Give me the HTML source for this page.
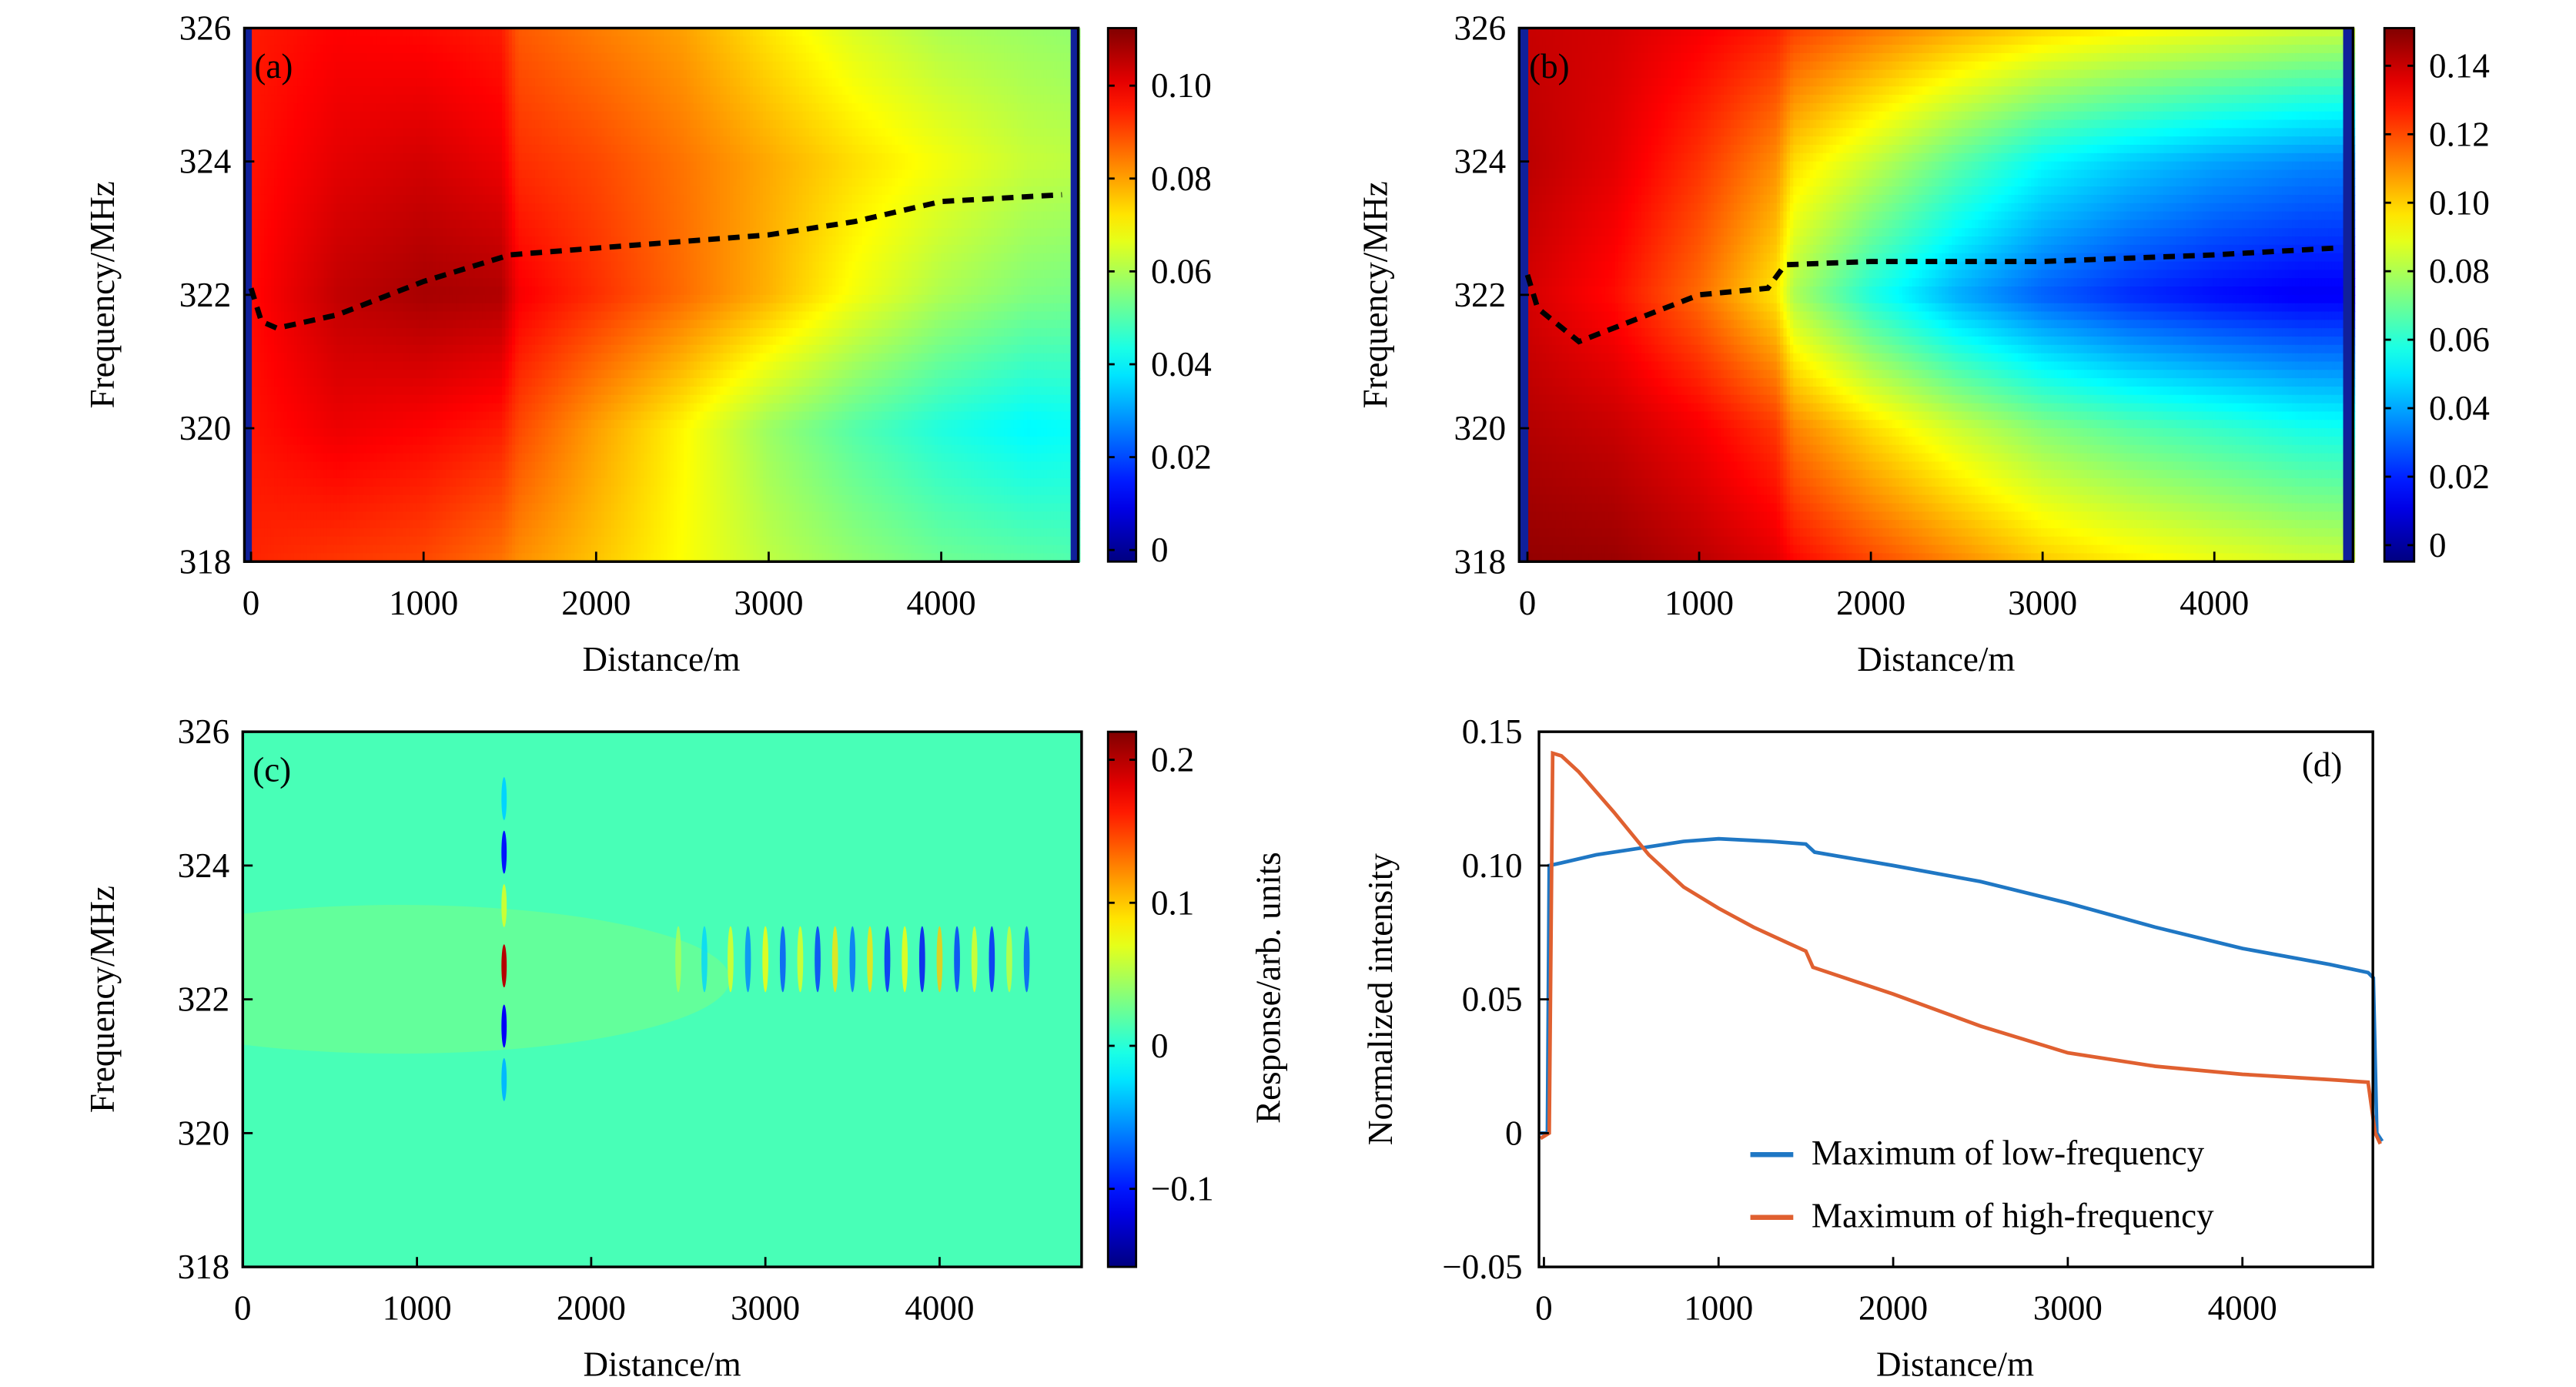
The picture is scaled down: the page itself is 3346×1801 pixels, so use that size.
<!DOCTYPE html>
<html><head><meta charset="utf-8"><style>
html,body{margin:0;padding:0;background:#fff;}
svg{display:block;}
text{font-family:"Liberation Serif",serif;fill:#000;}
</style></head><body>
<svg id="fig" xmlns="http://www.w3.org/2000/svg" width="3346" height="1801" viewBox="0 0 1560 839.7">
<defs><clipPath id="clip-c"><rect x="147" y="443" width="508" height="324"/></clipPath></defs>
<g id="layer-heat"></g>
<g id="layer-marks"></g>
<g id="layer-c" clip-path="url(#clip-c)"></g>
<g id="layer-axes"></g>
</svg>
<script>
// ---------- data ----------
const heatDist = [0, 500, 1000, 1450, 1550, 2000, 2500, 3000, 3500, 4000, 4500, 4750];
const heatFreq = [326, 324, 322, 320, 318];
const aRow326 = [0.095,0.098,0.097,0.095,0.088,0.084,0.080,0.072,0.065,0.060,0.058,0.057];
const aRow324 = [0.096,0.101,0.103,0.100,0.093,0.090,0.085,0.079,0.073,0.068,0.063,0.062];
const aRow322 = [0.097,0.105,0.108,0.107,0.099,0.093,0.086,0.078,0.068,0.060,0.055,0.054];
const aRow320 = [0.096,0.100,0.098,0.095,0.090,0.080,0.070,0.058,0.050,0.044,0.040,0.041];
const aRow318 = [0.094,0.092,0.090,0.085,0.082,0.076,0.069,0.062,0.057,0.053,0.051,0.050];
const bRow326 = [0.140,0.138,0.133,0.127,0.122,0.114,0.106,0.099,0.094,0.090,0.086,0.085];
const bRow324 = [0.142,0.136,0.124,0.110,0.098,0.084,0.068,0.054,0.046,0.040,0.036,0.035];
const bRow322 = [0.138,0.130,0.115,0.096,0.080,0.058,0.041,0.029,0.021,0.016,0.013,0.013];
const bRow320 = [0.143,0.140,0.133,0.123,0.112,0.098,0.085,0.074,0.067,0.062,0.057,0.056];
const bRow318 = [0.148,0.147,0.142,0.136,0.131,0.121,0.111,0.101,0.095,0.090,0.086,0.085];
const ridgeADist = [0, 60, 150, 500, 1000, 1500, 2000, 2500, 3000, 3500, 4000, 4700];
const ridgeAFreq = [322.1, 321.6, 321.5, 321.7, 322.2, 322.6, 322.7, 322.8, 322.9, 323.1, 323.4, 323.5];
const ridgeBDist = [0, 60, 300, 700, 1000, 1400, 1500, 2000, 3000, 4000, 4700];
const ridgeBFreq = [322.3, 321.8, 321.3, 321.7, 322.0, 322.1, 322.45, 322.5, 322.5, 322.6, 322.7];
const cSpikeFreq = [325, 324.2, 323.4, 322.5, 321.6, 320.8];
const cSpikeVal  = [-0.03, -0.10, 0.06, 0.20, -0.11, -0.04];
const cStripeDist = [2500,2650,2800,2900,3000,3100,3200,3300,3400,3500,3600,3700,3800,3900,4000,4100,4200,4300,4400,4500];
const cStripeVal  = [0.05,-0.03,0.07,-0.06,0.08,-0.08,0.07,-0.09,0.09,-0.07,0.09,-0.10,0.08,-0.11,0.10,-0.09,0.07,-0.10,0.06,-0.08];
const lowDist  = [-20,20,30,100,300,500,800,1000,1300,1500,1550,2000,2500,3000,3500,4000,4500,4720,4750,4770,4800];
const lowVal   = [0,0,0.100,0.101,0.104,0.106,0.109,0.110,0.109,0.108,0.105,0.100,0.094,0.086,0.077,0.069,0.063,0.060,0.058,0.0,-0.003];
const highDist = [-20,30,50,100,200,400,600,800,1000,1200,1400,1500,1540,2000,2500,3000,3500,4000,4500,4720,4760,4790];
const highVal  = [-0.002,0.0,0.142,0.141,0.135,0.120,0.104,0.092,0.084,0.077,0.071,0.068,0.062,0.052,0.040,0.030,0.025,0.022,0.020,0.019,0.0,-0.004];
const distTicks = [0,1000,2000,3000,4000];
const freqTicks = [318,320,322,324,326];
const cbATicks = [0,0.02,0.04,0.06,0.08,0.10];
const cbBTicks = [0,0.02,0.04,0.06,0.08,0.10,0.12,0.14];
const cbCTicks = [-0.1,0,0.1,0.2];
const cbCLabels = ["\u22120.1","0","0.1","0.2"];
const dYTicks = [-0.05,0,0.05,0.10,0.15];
const dYLabels = ["\u22120.05","0","0.05","0.10","0.15"];

// ---------- helpers ----------
const NS="http://www.w3.org/2000/svg";
const heat=document.getElementById('layer-heat');
const marks=document.getElementById('layer-marks');
const layerC=document.getElementById('layer-c');
const axes=document.getElementById('layer-axes');
function mk(tag,attrs,parent){const e=document.createElementNS(NS,tag);for(const k in attrs)e.setAttribute(k,attrs[k]);parent.appendChild(e);return e;}
function cl(v){return Math.max(0,Math.min(1,v));}
function jet(t){t=cl(t);const r=cl(1.5-Math.abs(4*t-3)),g=cl(1.5-Math.abs(4*t-2)),b=cl(1.5-Math.abs(4*t-1));return `rgb(${Math.round(r*255)},${Math.round(g*255)},${Math.round(b*255)})`;}
function interp1(xs,ys,x){if(x<=xs[0])return ys[0];for(let i=1;i<xs.length;i++){if(x<=xs[i]){const f=(x-xs[i-1])/(xs[i]-xs[i-1]);return ys[i-1]+f*(ys[i]-ys[i-1]);}}return ys[ys.length-1];}
function gridVal(rows,d,f){const col=rows.map(r=>interp1(heatDist,r,d));return interp1(heatFreq.slice().reverse(),col.slice().reverse(),f);}

const Ya=f=>17+(326-f)/8*323;
const Xa=d=>152+d*0.1045;
const Xb=d=>925+d*0.104;
const Xc=d=>147+d*0.1055;
const Yc=f=>443+(326-f)/8*324;
const Xd=d=>935+d*0.10575;
const Yd=v=>686-v/0.05*81;

function drawHeat(rows,X,x0,x1,vmin,vmax,name){
  const g=mk('g',{},heat);
  
  
  const dInv=x=>(x-X(0))/(X(1000)-X(0))*1000;
  const nx=Math.ceil(x1-x0), ny=64, h=323/ny;
  for(let i=0;i<nx;i+=2){
    const px=x0+i, d=Math.min(4750,Math.max(0,dInv(px+1)));
    for(let j=0;j<ny;j++){
      const f=326-(j+0.5)*8/ny;
      const v=gridVal(rows,d,f);
      const r=mk('rect',{x:px,y:(17+j*h).toFixed(2),width:2.3,height:(h+0.3).toFixed(2),fill:jet((v-vmin)/(vmax-vmin))},g);
      
      
    }
  }
  const l=mk('rect',{x:x0,y:17,width:X(0)-x0+0.5,height:323,fill:'#10209a'},g);
  
  const r2=mk('rect',{x:X(4750),y:17,width:x1-X(4750),height:323,fill:'#10209a'},g);
  
}
drawHeat([aRow326,aRow324,aRow322,aRow320,aRow318],Xa,148,653,-0.0025,0.1124,'heatmap-a');
drawHeat([bRow326,bRow324,bRow322,bRow320,bRow318],Xb,920,1425,-0.0048,0.151,'heatmap-b');

function ridge(ds,fs,X,name){
  const pts=ds.map((d,i)=>X(d).toFixed(1)+','+Ya(fs[i]).toFixed(1)).join(' ');
  const p=mk('polyline',{points:pts,fill:'none',stroke:'#000','stroke-width':3.2,'stroke-dasharray':'7 5'},marks);
  
  
}
ridge(ridgeADist,ridgeAFreq,Xa,'ridge-line-a');
ridge(ridgeBDist,ridgeBFreq,Xb,'ridge-line-b');

// panel c
const cmin=-0.1546,cmax=0.2196;
const cbg=mk('rect',{x:147,y:443,width:508,height:324,fill:jet((0.012-cmin)/(cmax-cmin))},layerC);

const cglow=mk('ellipse',{cx:Xc(900),cy:Yc(322.3),rx:200,ry:45,fill:jet((0.035-cmin)/(cmax-cmin)),opacity:0.45},layerC);

cSpikeFreq.forEach((f,i)=>{
  const e=mk('ellipse',{cx:Xc(1500),cy:Yc(f),rx:1.6,ry:13,fill:jet((cSpikeVal[i]-cmin)/(cmax-cmin))},layerC);
  
  
});
cStripeDist.forEach((d,i)=>{
  const e=mk('ellipse',{cx:Xc(d),cy:Yc(322.6),rx:1.8,ry:20,fill:jet((cStripeVal[i]-cmin)/(cmax-cmin)),opacity:0.8},layerC);
  
  
});

function curve(ds,vs,color,name){
  const pts=ds.map((d,i)=>Xd(d).toFixed(1)+','+Yd(vs[i]).toFixed(1)).join(' ');
  const p=mk('polyline',{points:pts,fill:'none',stroke:color,'stroke-width':2.2},marks);
  
  
}
curve(lowDist,lowVal,'#1f77c4','low-frequency-line');
curve(highDist,highVal,'#e06030','high-frequency-line');

// ---------- axes ----------
function txt(s,x,y,attrs,name){const t=mk('text',Object.assign({x:x,y:y,'font-size':21},attrs||{}),axes);t.textContent=s;return t;}
function frame(x0,y0,x1,y1,name){const r=mk('rect',{x:x0,y:y0,width:x1-x0,height:y1-y0,fill:'none',stroke:'#000','stroke-width':1.6},axes);}
function tick(x1,y1,x2,y2){const l=mk('line',{x1,y1,x2,y2,stroke:'#000','stroke-width':1.3},axes);}

function heatPanel(X,Y,x0,y0,x1,y1,letter,yl){
  frame(x0,y0,x1,y1,'plot-frame-'+letter);
  distTicks.forEach(d=>{tick(X(d),y1,X(d),y1-6);txt(String(d),X(d),y1+32,{'text-anchor':'middle'},'x-tick-label');});
  freqTicks.forEach(f=>{tick(x0,Y(f),x0+6,Y(f));txt(String(f),x0-8,Y(f)+7,{'text-anchor':'end'},'y-tick-label');});
  txt('Distance/m',(x0+x1)/2,y1+66,{'text-anchor':'middle'},'x-axis-title');
  txt('Frequency/MHz',0,0,{'text-anchor':'middle','transform':`translate(${yl},${(y0+y1)/2}) rotate(-90)`},'y-axis-title');
  txt('('+letter+')',x0+6,y0+30,{},'panel-label-'+letter);
}
heatPanel(Xa,Ya,148,17,653,340,'a',69);
heatPanel(Xb,Ya,920,17,1425,340,'b',840);
heatPanel(Xc,Yc,147,443,655,767,'c',69);

function colorbar(x0,y0,x1,y1,vmin,vmax,ticks,labels,name){
  const id='grad-'+name;
  const defs=document.querySelector('defs');
  const lg=mk('linearGradient',{id:id,x1:0,y1:1,x2:0,y2:0},defs);
  for(let i=0;i<=20;i++)mk('stop',{offset:i/20,'stop-color':jet(i/20)},lg);
  const r=mk('rect',{x:x0,y:y0,width:x1-x0,height:y1-y0,fill:`url(#${id})`,stroke:'#000','stroke-width':1.3},axes);
  
  ticks.forEach((v,i)=>{const y=y1-(v-vmin)/(vmax-vmin)*(y1-y0);tick(x1-4,y,x1,y);tick(x0,y,x0+4,y);txt(labels[i],x1+9,y+7,{},'colorbar-tick-label');});
}
colorbar(671,17,688,340,-0.0025,0.1124,cbATicks,cbATicks.map(v=>v===0?'0':v.toFixed(2)),'colorbar-a');
colorbar(1444,17,1462,340,-0.0048,0.151,cbBTicks,cbBTicks.map(v=>v===0?'0':v.toFixed(2)),'colorbar-b');
colorbar(671,443,688,767,cmin,cmax,cbCTicks,cbCLabels,'colorbar-c');
txt('Response/arb. units',0,0,{'text-anchor':'middle','transform':`translate(775,598) rotate(-90)`},'colorbar-c-title');

frame(932,443,1437,767,'plot-frame-d');
distTicks.forEach(d=>{tick(Xd(d),767,Xd(d),761);txt(String(d),Xd(d),799,{'text-anchor':'middle'},'x-tick-label');});
dYTicks.forEach((v,i)=>{tick(932,Yd(v),938,Yd(v));txt(dYLabels[i],922,Yd(v)+7,{'text-anchor':'end'},'y-tick-label');});
txt('Distance/m',1184,833,{'text-anchor':'middle'},'x-axis-title');
txt('Normalized intensity',0,0,{'text-anchor':'middle','transform':'translate(843,605) rotate(-90)'},'y-axis-title');
txt('(d)',1394,470,{},'panel-label-d');
const lg1=mk('line',{x1:1060,y1:699,x2:1086,y2:699,stroke:'#1f77c4','stroke-width':3},axes);

txt('Maximum of low-frequency',1097,705,{},'legend-entry-low');
const lg2=mk('line',{x1:1060,y1:737,x2:1086,y2:737,stroke:'#e06030','stroke-width':3},axes);

txt('Maximum of high-frequency',1097,743,{},'legend-entry-high');
</script>
</body></html>
